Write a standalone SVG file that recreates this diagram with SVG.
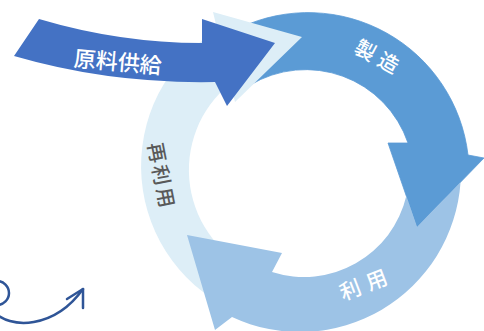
<svg xmlns="http://www.w3.org/2000/svg" width="484" height="331" viewBox="0 0 484 331">
<defs>
<style>
.lbl{font-family:"Noto Sans CJK JP","Noto Sans",sans-serif;dominant-baseline:central;text-anchor:middle;font-weight:500}
.w{fill:#ffffff}
.g{fill:#595959}
.seizo{fill:#5B9BD5;stroke:#5B9BD5;stroke-width:0.8;stroke-linejoin:round}
.sairiyo{fill:#DDEEF7}
.riyo{fill:#9DC3E6}
.genryo{fill:#4472C4}
</style>
</defs>
<rect width="484" height="331" fill="#ffffff"/>
<g id="node-seizo">
<path class="seizo" d="M 240 27.7 A 161 161 0 0 1 468 155 L 484 158 L 417 227 L 388 143 L 408 143 A 108 108 0 0 0 250 85.1 Z"/>
<text class="lbl w" font-size="20.5" transform="translate(377.5,55.3) rotate(28.5)" x="-13.1 13.1" y="0">製造</text>
</g>
<g id="node-sairiyo">
<path class="sairiyo" d="M 240.4 313.4 A 159 159 0 0 1 217.4 30.2 L 213 12 L 302 37 L 235 102 L 230.4 83.4 A 111 111 0 0 0 258.4 272.9 Z"/>
<text class="lbl g" font-size="20" transform="translate(162.3,174.7) rotate(79)" x="-22.8 0 22.8" y="0">再利用</text>
</g>
<g id="node-riyo">
<path class="riyo" d="M 460.55 182.15 A 161 161 0 0 1 232 317 L 215 330 L 187 235 L 282 253 L 272 272 A 105 105 0 0 0 406.3 195.9 L 417 227 Z"/>
<text class="lbl w" font-size="21" transform="translate(363,283.5) rotate(-21)" x="-14 14" y="0">利用</text>
</g>
<g id="node-genryo">
<path class="genryo" d="M 39 19 Q 120 43 202 43 L 202 19 L 275 43 L 227 106 L 215 82 Q 110 84 14 56 Z"/>
<text class="lbl w" font-size="22" transform="translate(118,60) rotate(5)" x="0" y="0">原料供給</text>
</g>
<g id="connectors" fill="none" stroke="#2F5597" stroke-width="2.5" stroke-linecap="round" stroke-linejoin="round">
<path d="M -3 281 A 12 12 0 0 1 -3 305 L -8 310 C 10 331 55 328 83 289"/>
<path d="M 67 299 L 83 289 L 83 308"/>
</g>
</svg>
